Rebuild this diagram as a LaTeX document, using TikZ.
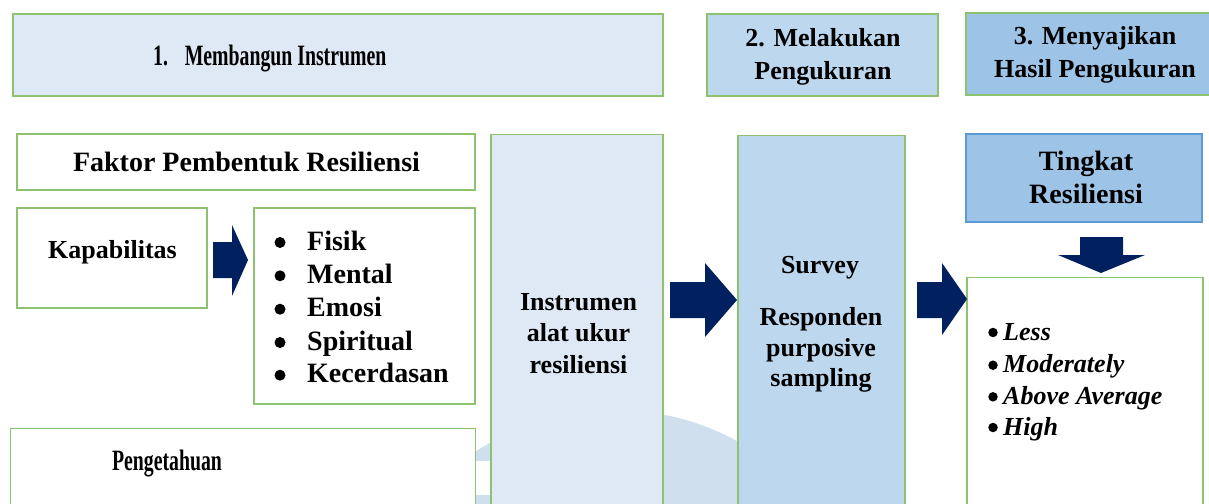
\documentclass[tikz,border=0pt]{standalone}
\usepackage{fontspec}
\setmainfont{Liberation Serif}
\usepackage{graphicx}
\definecolor{gbord}{HTML}{8DC26F}
\definecolor{pale}{HTML}{DEE9F5}
\definecolor{mid}{HTML}{BDD7EE}
\definecolor{deep}{HTML}{9DC3E6}
\definecolor{bbord}{HTML}{5B9BD5}
\definecolor{navy}{HTML}{002060}
\definecolor{wmark}{HTML}{CFDFEE}
\begin{document}
\begin{tikzpicture}[x=1pt,y=-1pt,
  box/.style={draw=gbord,line width=1.3pt,fill=white,inner sep=0pt,rectangle},
  txt/.style={inner sep=0pt,anchor=base,font=\bfseries\fontsize{26}{31}\selectfont},
  bigtxt/.style={txt,font=\bfseries\fontsize{28}{33}\selectfont},
  itxt/.style={inner sep=0pt,anchor=base west,font=\bfseries\itshape\fontsize{26}{30}\selectfont},
  bigdot/.style={circle,fill=black,inner sep=0pt,minimum size=11pt},
  smalldot/.style={circle,fill=black,inner sep=0pt,minimum size=9.5pt},
  blockarrow/.style={fill=navy}]
\clip (0,0) rectangle (1209,503);
% faint watermark
\fill[wmark] (615,665) circle[radius=255];
\fill[white] (470,461) rectangle (495,495);
% header row
\node[box,fill=pale,minimum width=650,minimum height=82] (h1) at (338,55) {};
\node[txt,anchor=base west] (h1t) at (153,65.5)
  {\scalebox{0.67}[1]{\fontsize{29.5}{30}\selectfont 1.\hspace{25pt}Membangun Instrumen}};
\node[box,fill=mid,minimum width=231,minimum height=82] (h2) at (822.5,55) {};
\node[txt] (h2a) at (823,47) {2. Melakukan};
\node[txt] (h2b) at (823,79.3) {Pengukuran};
\node[box,fill=deep,minimum width=256,minimum height=82] (h3) at (1094,54) {};
\node[txt] (h3a) at (1095,45) {3. Menyajikan};
\node[txt] (h3b) at (1095,77.3) {Hasil Pengukuran};
% column 1
\node[box,minimum width=458,minimum height=56] (fak) at (246,162) {};
\node[bigtxt] (fakt) at (246.5,171.7) {Faktor Pembentuk Resiliensi};
\node[box,minimum width=190,minimum height=100] (kap) at (112,258) {};
\node[txt] (kapt) at (112.5,258.3) {Kapabilitas};
\node[box,minimum width=221,minimum height=196] (bul) at (364.5,306) {};
\foreach \t/\y [count=\i] in {Fisik/250,Mental/283.3,Emosi/316.7,Spiritual/350,Kecerdasan/382.7}{
  \node[bigtxt,anchor=base west] (f\i) at (307,\y) {\t};
  \node[bigdot] (fb\i) at (280,\y-7.5) {};
}
\node[box,minimum width=465,minimum height=120,anchor=north west] (pen) at (10,428) {};
\node[txt] (pent) at (167,470.5)
  {\scalebox{0.67}[1]{\fontsize{29.5}{30}\selectfont Pengetahuan}};
% column 2: instrument
\node[box,fill=pale,minimum width=172,minimum height=400,anchor=north] (ins) at (577,134) {};
\node[txt] (ins1) at (578.5,310) {Instrumen};
\node[txt] (ins2) at (578.5,341.7) {alat ukur};
\node[txt] (ins3) at (578.5,373.3) {resiliensi};
% column 3: survey
\node[box,fill=mid,minimum width=167,minimum height=400,anchor=north] (sur) at (821.5,135) {};
\node[txt] (sur1) at (820,273.3) {Survey};
\node[txt] (sur2) at (821,325) {Responden};
\node[txt] (sur3) at (821,356) {purposive};
\node[txt] (sur4) at (821,386.7) {sampling};
% column 4: result
\node[box,draw=bbord,fill=deep,minimum width=236,minimum height=88] (tin) at (1084,178) {};
\node[bigtxt] (tin1) at (1086,170) {Tingkat};
\node[bigtxt] (tin2) at (1086,203) {Resiliensi};
\node[box,minimum width=236,minimum height=300,anchor=north] (res) at (1085,277) {};
\foreach \t/\y [count=\i] in {Less/340,Moderately/372.7,Above Average/404.3,High/435}{
  \node[itxt] (r\i) at (1003,\y) {\t};
  \node[smalldot] (rb\i) at (993,\y-7.5) {};
}
% block arrows
\fill[blockarrow] (213,242) -- (232,242) -- (232,225) -- (248,260) -- (232,296) -- (232,278) -- (213,278) -- cycle;
\fill[blockarrow] (670,282) -- (705,282) -- (705,263) -- (737,300) -- (705,337) -- (705,318) -- (670,318) -- cycle;
\fill[blockarrow] (917,282) -- (942,282) -- (942,263) -- (967,299) -- (942,335) -- (942,318) -- (917,318) -- cycle;
\fill[blockarrow] (1080,237) -- (1123,237) -- (1123,255) -- (1145,255) -- (1101,273) -- (1058,255) -- (1080,255) -- cycle;
\end{tikzpicture}
\end{document}
